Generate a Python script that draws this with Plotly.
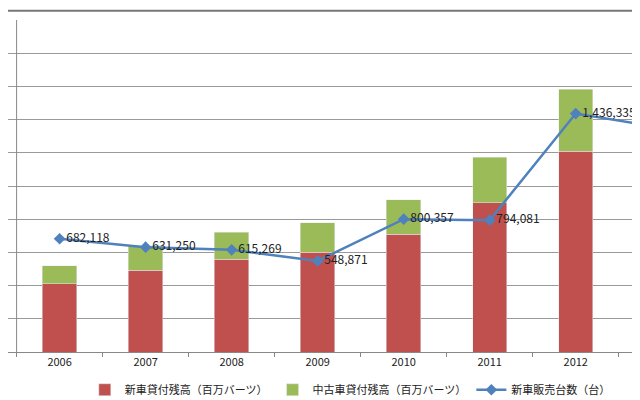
import plotly.graph_objects as go

years = ["2006", "2007", "2008", "2009", "2010", "2011", "2012", "2013"]
new_loans = [2.05, 2.47, 2.8, 3.0, 3.55, 4.49, 6.05, 6.75]
used_loans = [0.55, 0.73, 0.8, 0.9, 1.03, 1.38, 1.87, 1.98]
sales = [682118, 631250, 615269, 548871, 800357, 794081, 1436335, 1352000]
sales_labels = ["682,118", "631,250", "615,269", "548,871", "800,357", "794,081", "1,436,335", ""]

font = "Noto Sans CJK JP, Noto Sans, sans-serif"

fig = go.Figure()
fig.add_trace(go.Bar(x=years, y=new_loans, name="新車貸付残高（百万バーツ）",
                     marker_color="#c0504d", width=0.4))
fig.add_trace(go.Bar(x=years, y=used_loans, name="中古車貸付残高（百万バーツ）",
                     marker_color="#9bbb59", width=0.4))
fig.add_trace(go.Scatter(x=years, y=sales, name="新車販売台数（台）", yaxis="y2",
                         mode="lines+markers+text", text=sales_labels,
                         textposition="middle right", textfont=dict(size=12, color="#222"),
                         line=dict(color="#4f81bd", width=2.5),
                         marker=dict(symbol="diamond", size=9, color="#4f81bd")))

fig.update_layout(
    width=640, height=400, barmode="stack",
    margin=dict(l=0, r=0, t=12, b=56, autoexpand=False),
    plot_bgcolor="white", paper_bgcolor="white",
    font=dict(family=font, size=11, color="#222"),
    xaxis=dict(range=[-0.6, 6.84], showline=True, linecolor="#888",
               ticks="outside", tickson="boundaries", ticklen=4, tickcolor="#888"),
    yaxis=dict(range=[0, 10], dtick=1, showgrid=True, gridcolor="#999",
               showticklabels=False, showline=False, zeroline=False),
    yaxis2=dict(range=[0, 2000000], overlaying="y", side="right",
                showgrid=False, showticklabels=False, zeroline=False),
    legend=dict(orientation="h", x=0.12, xanchor="left", y=-0.07, yanchor="top",
                font=dict(size=11), traceorder="normal"),
    showlegend=True,
    shapes=[dict(type="line", xref="x", yref="y", x0=-0.5, x1=-0.5, y0=0, y1=10,
                 line=dict(color="#888", width=1)),
            dict(type="rect", xref="paper", yref="paper", x0=-0.01, x1=1.1,
                 y0=-0.16, y1=1.028, line=dict(color="#777", width=2))],
)

fig.write_html("out.html")
